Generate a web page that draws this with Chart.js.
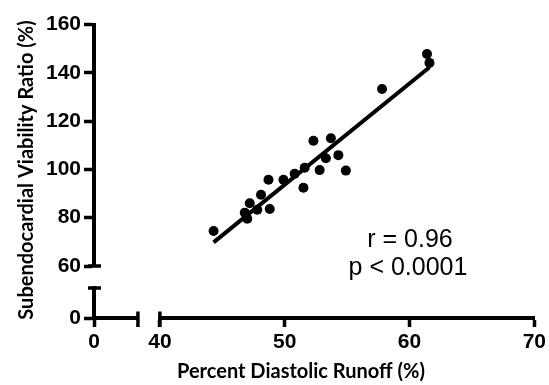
<!DOCTYPE html>
<html>
<head>
<meta charset="utf-8">
<script src="https://cdn.jsdelivr.net/npm/chart.js@4.4.0/dist/chart.umd.min.js"></script>
<style>
  html, body { margin: 0; padding: 0; background: #fff; }
</style>
</head>
<body>
<canvas id="c" width="549" height="385"></canvas>
<script>
// Valores
const runoff = [44.3, 46.8, 47.0, 47.2, 47.8, 48.1, 48.8, 48.7, 49.9, 50.8, 51.6, 51.5, 52.8, 52.3, 53.7, 53.3, 54.3, 54.9, 57.8, 61.4, 61.6];
const ratio = [74.5, 82.1, 79.6, 86.0, 83.3, 89.5, 83.6, 95.7, 95.7, 98.2, 100.7, 92.4, 99.7, 111.9, 112.9, 104.6, 105.9, 99.5, 133.3, 147.8, 144.1];

// Recta de regresión (extremos)
const fitX = [44.3, 61.6];
const fitY = [69.8, 142.3];

// Marcas de los ejes
const xTicks = [40, 50, 60, 70];
const xLowTicks = [0];
const yTicks = [60, 80, 100, 120, 140, 160];
const yLowTicks = [0];

const xTitle = "Percent Diastolic Runoff (%)";
const yTitle = "Subendocardial Viability Ratio (%)";
const statsText = ["r = 0.96", "p < 0.0001"];

const black = "#000";
const tickFont = { family: "'Liberation Sans', Arial, sans-serif", size: 21, weight: "bold" };

// Eje con marcas (parte de un eje cortado)
function axisPart(opts) {
    const horizontal = opts.position === "bottom";
    return {
        type: "linear",
        position: opts.position,
        stack: horizontal ? "xs" : "ys",
        stackWeight: opts.size,
        weight: opts.weight,
        min: opts.min,
        max: opts.max,
        afterBuildTicks: (s) => { s.ticks = opts.ticks.map((v) => ({ value: v })); },
        afterFit: (s) => { if (horizontal) s.height = 67; else s.width = 94; },
        grid: {
            drawOnChartArea: false,
            tickLength: horizontal ? 9 : 10,
            tickWidth: 3.5,
            tickColor: black,
        },
        border: { color: black, width: 4 },
        ticks: {
            color: black,
            font: tickFont,
            padding: horizontal ? 3 : 3,
            maxRotation: 0,
            autoSkip: false,
        },
    };
}

// Hueco entre las dos partes de un eje
function gapPart(position, size, weight) {
    const horizontal = position === "bottom";
    return {
        type: "linear",
        position: position,
        stack: horizontal ? "xs" : "ys",
        stackWeight: size,
        weight: weight,
        min: 0,
        max: 1,
        afterFit: (s) => { if (horizontal) s.height = 67; else s.width = 94; },
        grid: { display: false },
        border: { display: false },
        ticks: { display: false },
    };
}

// Cortes de los ejes, títulos y texto de estadística
const extras = {
    id: "extras",
    afterDraw(chart) {
        const { ctx, scales } = chart;
        ctx.save();
        ctx.strokeStyle = black;
        ctx.lineWidth = 3.5;

        const xb = scales.x.top;
        [scales.x0.right, scales.x.left].forEach((px) => {
            ctx.beginPath();
            ctx.moveTo(px, xb - 6.5);
            ctx.lineTo(px, xb + 9);
            ctx.stroke();
        });

        const yr = scales.y.right;
        [scales.y.bottom, scales.y0.top].forEach((py) => {
            ctx.beginPath();
            ctx.moveTo(yr - 6, py);
            ctx.lineTo(yr + 7, py);
            ctx.stroke();
        });

        ctx.fillStyle = black;
        ctx.font = "bold 20px Lato, sans-serif";
        ctx.textAlign = "center";
        ctx.textBaseline = "alphabetic";
        ctx.fillText(xTitle, 301, 378);

        ctx.save();
        ctx.translate(33, 170);
        ctx.rotate(-Math.PI / 2);
        ctx.fillText(yTitle, 0, 0);
        ctx.restore();

        ctx.font = "25px 'Liberation Sans', Arial, sans-serif";
        ctx.fillText(statsText[0], 410, 247);
        ctx.fillText(statsText[1], 408, 275);
        ctx.restore();
    },
};

new Chart(document.getElementById("c").getContext("2d"), {
    type: "scatter",
    data: {
        datasets: [
            {
                label: "Datos",
                data: runoff.map((x, i) => ({ x: x, y: ratio[i] })),
                xAxisID: "x",
                yAxisID: "y",
                pointRadius: 5,
                pointHoverRadius: 5,
                backgroundColor: black,
                borderWidth: 0,
            },
            {
                label: "Ajuste",
                type: "line",
                data: fitX.map((x, i) => ({ x: x, y: fitY[i] })),
                xAxisID: "x",
                yAxisID: "y",
                borderColor: black,
                borderWidth: 4,
                pointRadius: 0,
                fill: false,
            },
        ],
    },
    options: {
        responsive: false,
        animation: false,
        layout: { padding: { top: 24.5, right: 14, left: 0, bottom: 0 } },
        scales: {
            x0: axisPart({ position: "bottom", size: 44, weight: 0, min: 0, max: 10, ticks: xLowTicks }),
            xg: gapPart("bottom", 22, 1),
            x: axisPart({ position: "bottom", size: 375, weight: 2, min: 40, max: 70, ticks: xTicks }),
            y: axisPart({ position: "left", size: 241.5, weight: 2, min: 60, max: 160, ticks: yTicks }),
            yg: gapPart("left", 22, 1),
            y0: axisPart({ position: "left", size: 30, weight: 0, min: 0, max: 10, ticks: yLowTicks }),
        },
        plugins: {
            legend: { display: false },
            tooltip: { enabled: false },
        },
    },
    plugins: [extras],
});
</script>
</body>
</html>
